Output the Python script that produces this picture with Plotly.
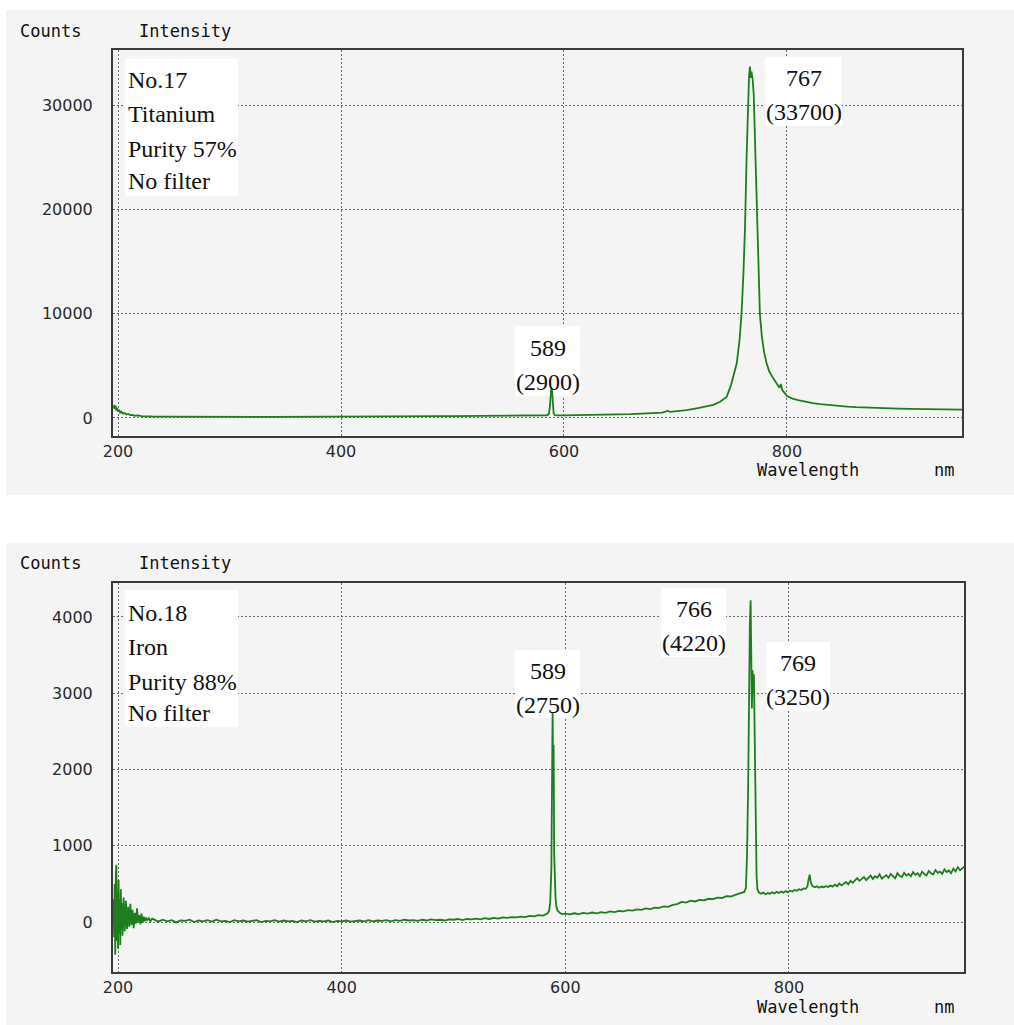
import plotly.graph_objects as go

# ---------------------------------------------------------------------------
# Spectrum No.17 - Titanium (purity 57 %), no filter
# ---------------------------------------------------------------------------
wl_ti = [
    196, 196.7, 197.3, 198, 198.6, 199.2, 200, 201, 202, 203, 204.5, 206, 207.5,
    209, 211, 213, 215, 218, 221, 225, 230,
    240, 250, 260, 270, 280, 290, 300, 310, 320, 330, 340, 350, 360, 370, 380,
    390, 400, 410, 420, 430, 440, 450, 460, 470, 480, 490, 500, 510, 520, 530,
    540, 550, 560, 570, 578, 583,
    585, 586.5, 587.5, 588.3, 588.8, 589.4, 590, 590.7, 591.5, 593,
    600, 610, 620, 630, 640, 650, 660, 670, 680, 688, 691, 693, 695, 700, 710,
    719, 727, 734, 740, 746, 750, 753, 755, 757.5, 759.3, 761, 762.3, 763.8,
    765.3, 766, 766.8, 767.5, 768.2, 769.2, 770.2, 771, 771.8, 773.3, 774.5,
    775.7, 777.5, 779.5, 781.7, 784, 787.7, 791, 793.3, 794.5, 795.7, 800, 805,
    810, 816, 823, 830, 838, 846, 854, 862, 870, 880, 890, 900, 910, 920, 930,
    940, 950, 957,
]
cnt_ti = [
    900, 1250, 850, 1150, 700, 950, 620, 780, 500, 600, 420, 480, 330,
    380, 270, 300, 210, 240, 170, 180, 140,
    130, 120, 110, 115, 100, 105, 95, 100, 95, 105, 100, 110, 100, 105, 110,
    105, 115, 120, 125, 130, 135, 140, 150, 160, 165, 175, 180, 190, 200, 205,
    215, 225, 230, 240, 245, 250,
    260, 400, 1200, 2500, 2900, 2500, 1300, 450, 280, 250,
    250, 260, 275, 290, 310, 340, 375, 420, 470, 520, 600, 700, 580, 620, 750,
    930, 1080, 1250, 1550, 2040, 3200, 4300, 5270, 7500, 10070, 14000, 18000, 25000,
    31450, 32800, 33700, 32600, 33200, 32500, 31000, 28000, 24400, 18000, 13500,
    10000, 7800, 6300, 5270, 4500, 3800, 3200, 2900, 3250, 2700, 2100, 1850,
    1700, 1560, 1430, 1330, 1230, 1150, 1080, 1030, 990, 950, 920, 890, 870, 855, 840,
    825, 810, 800,
]
ti_info = ["No.17", "Titanium", "Purity 57%", "No filter"]
ti_peak_wl = [589, 767]
ti_peak_cnt = [2900, 33700]

# ---------------------------------------------------------------------------
# Spectrum No.18 - Iron (purity 88 %), no filter
# ---------------------------------------------------------------------------
wl_fe = [
    196.0, 196.5, 197.0, 197.5, 198.0, 198.5, 199.0, 199.5, 200.0, 200.5, 201.0,
    201.5, 202.0, 202.5, 203.0, 203.5, 204.0, 205.0, 206.0, 207.0, 208.0, 209.0,
    210.0, 211.0, 212.0, 213.0, 214.0, 215.0, 216.0, 217.0, 218.0, 219.0, 220.0,
    221.0, 222.0, 223.0, 224.0, 225.0, 226.0, 227.5, 229.0, 230.5,
    232, 236, 240, 244, 248, 252, 256, 260, 264, 268, 272, 276, 280, 284, 288,
    292, 296, 300, 304, 308, 312, 316, 320, 324, 328, 332, 336, 340, 344, 348,
    352, 356, 360, 364, 368, 372, 376, 380, 384, 388, 392, 396, 400, 404, 408,
    412, 416, 420, 424, 428, 432, 436, 440, 444, 448, 452, 456, 460, 464, 468,
    472, 476, 480, 484, 488, 492, 496, 500, 504, 508, 512, 516, 520, 524, 528,
    532, 536, 540, 544, 548, 552, 556, 560, 564, 568, 572, 576, 580,
    582, 584, 585.5, 586.5, 587.5, 588.0, 588.6, 589.1, 589.5, 590.0, 590.5,
    591.2, 592, 593, 595, 597,
    600, 604, 608, 612, 616, 620, 624, 628, 632, 636, 640, 644, 648, 652, 656,
    660, 664, 668, 672, 676, 680, 684, 688, 692, 696, 700, 704, 708, 712, 716,
    720, 724, 728, 732, 736, 740, 744, 748, 752, 756, 758, 760,
    761.5, 762.5, 763.5, 764.3, 765, 765.7, 766.3, 766.8, 767.4, 768, 768.6,
    769.2, 769.8, 770.4, 771, 771.8,
    773, 775, 777, 779, 781, 783, 785, 787, 789, 791, 793, 795, 797, 799, 801,
    803, 805, 807, 809, 811, 813, 815, 816.5, 817.5, 818.5, 819.5, 821, 823,
    825, 827, 829, 831, 833, 835, 837, 839, 841, 843, 845, 847, 849, 851, 853,
    855, 857, 859, 861, 863, 865, 867, 869, 871, 873, 875, 877, 879, 881, 883,
    885, 887, 889, 891, 893, 895, 897, 899, 901, 903, 905, 907, 909, 911, 913,
    915, 917, 919, 921, 923, 925, 927, 929, 931, 933, 935, 937, 939, 941, 943,
    945, 947, 949, 951, 953, 955, 957,
]
cnt_fe = [
    300, -200, 500, -430, 620, 750, -250, 400, -350, 550, -150,
    300, -300, 430, -100, 250, -180, 320, -120, 280, -90, 200,
    -60, 240, -40, 160, -80, 120, -20, 180, 0, 90, -30,
    110, -10, 70, 10, 60, 20, 50, 10, 45,
    35, 5, 30, 10, 25, -5, 20, 15, 30, 0, 20, 10, 25, 5, 30,
    10, 15, 0, 25, 10, 20, 5, 15, 25, 0, 15, 10, 25, 5, 20,
    10, 15, 0, 20, 10, 25, 5, 15, 10, 20, 0, 15, 10, 20, 5,
    15, 20, 10, 25, 10, 20, 15, 25, 10, 25, 15, 30, 20, 25, 15,
    30, 20, 35, 25, 30, 20, 35, 30, 40, 25, 40, 35, 45, 35, 50,
    40, 55, 45, 60, 55, 65, 60, 70, 65, 80, 75, 90, 85,
    95, 110, 150, 260, 700, 1650, 2750, 2000, 2320, 900, 600,
    330, 200, 150, 120, 105,
    110, 100, 115, 105, 120, 110, 125, 115, 130, 120, 140, 130, 145, 140, 155,
    150, 165, 160, 180, 170, 190, 185, 205, 200, 225, 235, 265, 255, 280, 270,
    290, 285, 305, 300, 320, 315, 340, 335, 355, 370, 380, 395,
    450, 900, 1800, 3100, 3900, 4220, 3600, 2800, 3300, 3000, 3250,
    2700, 2000, 1100, 600, 430,
    390, 370, 385, 365, 380, 370, 390, 375, 395, 380, 400, 385, 405, 390, 410,
    400, 420, 410, 430, 420, 440, 435, 470, 560, 620, 520, 470, 455,
    470, 450, 465, 455, 470, 460, 480, 465, 490, 470, 505, 480, 500, 525, 495,
    540, 515, 550, 575, 540, 560, 590, 550, 585, 610, 565, 600, 580, 625, 570,
    595, 615, 580, 630, 600, 575, 640, 605, 590, 645, 610, 630, 600, 655, 620,
    640, 600, 660, 630, 610, 670, 640, 625, 680, 645, 660, 630, 690, 655, 675,
    640, 700, 665, 720, 680, 705, 730,
]
fe_info = ["No.18", "Iron", "Purity 88%", "No filter"]
fe_peak_wl = [589, 766, 769]
fe_peak_cnt = [2750, 4220, 3250]

x_ticks = [200, 400, 600, 800]
ti_y_ticks = [0, 10000, 20000, 30000]
fe_y_ticks = [0, 1000, 2000, 3000, 4000]

# ---------------------------------------------------------------------------
# Page geometry (pixels) and styling
# ---------------------------------------------------------------------------
W, H = 1014, 1025
GREEN = "#1c7f1c"
PANEL_BG = "#f4f4f4"
FRAME = "#3a3a3a"
GRID = "#6a6a6a"
SERIF = "Liberation Serif"
MONO = "DejaVu Sans Mono"

panels = {
    "ti": dict(l=113, r=962, t=50, b=436, xr=[195.5, 957.0], yr=[-1730, 35280],
               xa="x", ya="y"),
    "fe": dict(l=113, r=964, t=583, b=972, xr=[195.5, 956.5], yr=[-655, 4445],
               xa="x2", ya="y2"),
}


def px(x):
    return x / W


def py(y):
    return 1 - y / H


def to_data(p, x, y):
    g = panels[p]
    dx = g["xr"][0] + (x - g["l"]) / (g["r"] - g["l"]) * (g["xr"][1] - g["xr"][0])
    dy = g["yr"][0] + (g["b"] - y) / (g["b"] - g["t"]) * (g["yr"][1] - g["yr"][0])
    return dx, dy


fig = go.Figure()
fig.add_trace(go.Scatter(x=wl_ti, y=cnt_ti, mode="lines", xaxis="x", yaxis="y",
                         line=dict(color=GREEN, width=1.8), hoverinfo="skip",
                         showlegend=False))
fig.add_trace(go.Scatter(x=wl_fe, y=cnt_fe, mode="lines", xaxis="x2", yaxis="y2",
                         line=dict(color=GREEN, width=1.8), hoverinfo="skip",
                         showlegend=False))

shapes = []
annotations = []

# grey panel backgrounds
for y0, y1 in [(10, 495), (543, 1025)]:
    shapes.append(dict(type="rect", xref="paper", yref="paper", layer="below",
                       x0=px(6), x1=px(1014), y0=py(y1), y1=py(y0),
                       fillcolor=PANEL_BG, line=dict(width=0)))


def white_box(p, x0, y0, x1, y1):
    g = panels[p]
    a0, b0 = to_data(p, x0, y1)
    a1, b1 = to_data(p, x1, y0)
    shapes.append(dict(type="rect", xref=g["xa"], yref=g["ya"], layer="between",
                       x0=a0, x1=a1, y0=b0, y1=b1, fillcolor="white",
                       line=dict(width=0)))


def text(x, y, s, font, size, xanchor="left"):
    annotations.append(dict(x=px(x), y=py(y), xref="paper", yref="paper", text=s,
                            showarrow=False, xanchor=xanchor, yanchor="middle",
                            font=dict(family=font, size=size, color="#111")))


# axis captions
for top, bottom in [(31, 470), (563, 1007)]:
    text(18, top, "Counts", MONO, 17)
    text(137, top, "Intensity", MONO, 17)
    text(755, bottom, "Wavelength", MONO, 17)
    text(932, bottom, "nm", MONO, 17)

# sample description boxes
white_box("ti", 125, 59, 238, 196)
for s, yc in zip(ti_info, [80, 114, 149, 181]):
    text(126, yc, s, SERIF, 24)
white_box("fe", 125, 590, 238, 727)
for s, yc in zip(fe_info, [613, 647, 682, 713]):
    text(126, yc, s, SERIF, 24)

# peak labels: wavelength and counts
ti_label_layout = [
    dict(box=(515, 326, 580, 396), cx=548, y1=348, y2=382),
    dict(box=(765, 57, 842, 126), cx=804, y1=78, y2=112),
]
fe_label_layout = [
    dict(box=(515, 650, 580, 718), cx=548, y1=671, y2=705),
    dict(box=(661, 588, 726, 657), cx=694, y1=609, y2=643),
    dict(box=(766, 642, 830, 711), cx=798, y1=663, y2=697),
]
for p, wls, cnts, lay in [("ti", ti_peak_wl, ti_peak_cnt, ti_label_layout),
                          ("fe", fe_peak_wl, fe_peak_cnt, fe_label_layout)]:
    for w, c, L in zip(wls, cnts, lay):
        white_box(p, *L["box"])
        text(L["cx"], L["y1"], f"{w}", SERIF, 24, xanchor="center")
        text(L["cx"], L["y2"], f"({c})", SERIF, 24, xanchor="center")

axis_common = dict(showline=True, mirror=True, linecolor=FRAME, linewidth=2,
                   showgrid=True, gridcolor=GRID, gridwidth=1, griddash="2px,2px",
                   zeroline=False, ticks="", automargin=False,
                   tickfont=dict(family="DejaVu Sans", size=16, color="#2a2a2a"),
                   fixedrange=True)

fig.update_layout(
    width=W, height=H,
    autosize=False,
    margin=dict(l=0, r=0, t=0, b=0, pad=0),
    paper_bgcolor="white",
    plot_bgcolor=PANEL_BG,
    showlegend=False,
    hovermode=False,
    shapes=shapes,
    annotations=annotations,
    xaxis=dict(axis_common, domain=[px(113), px(962)], anchor="y",
               range=panels["ti"]["xr"], tickvals=x_ticks, ticklabelstandoff=0),
    yaxis=dict(axis_common, domain=[py(436), py(50)], anchor="x",
               range=panels["ti"]["yr"], tickvals=ti_y_ticks, tickformat="d",
               ticklabelstandoff=15),
    xaxis2=dict(axis_common, domain=[px(113), px(964)], anchor="y2",
                range=panels["fe"]["xr"], tickvals=x_ticks, ticklabelstandoff=0),
    yaxis2=dict(axis_common, domain=[py(972), py(583)], anchor="x2",
                range=panels["fe"]["yr"], tickvals=fe_y_ticks, tickformat="d",
                ticklabelstandoff=15),
)

fig.write_html("out.html")
